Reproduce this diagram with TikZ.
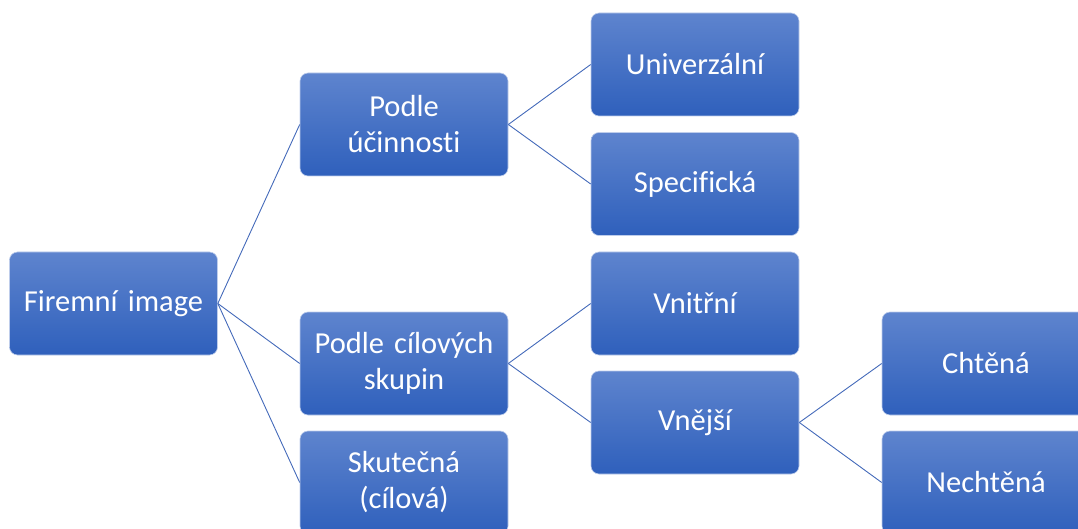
\documentclass[tikz,border=0pt]{standalone}
\usepackage{fontspec}
\setmainfont{Carlito}[Ligatures={NoCommon}]
\definecolor{boxtop}{RGB}{94,132,206}
\definecolor{boxbot}{RGB}{47,96,188}
\definecolor{boxedge}{RGB}{190,205,235}
\definecolor{linkc}{RGB}{68,106,186}
\tikzset{
  box/.style={rectangle, rounded corners=8pt, top color=boxtop, bottom color=boxbot,
    draw=boxedge, line width=0.6pt, minimum width=208pt, minimum height=103pt,
    text width=196pt, align=center, text=white, inner sep=0pt,
    font=\fontsize{30.5}{36}\selectfont},
  link/.style={draw=linkc, line width=0.9pt}
}
\begin{document}
\begin{tikzpicture}[x=1pt,y=-1pt]
\useasboundingbox (0,0) rectangle (1078,529);
\begin{scope}
\clip (0,0) rectangle (1078,529);
\node[box] (fi)  at (113.5,303.5) {Firemní image};
\node[box] (pu)  at (404,124.5) {Podle\\účinnosti};
\node[box] (uni) at (695,64.5) {Univerzální};
\node[box] (spe) at (695,184) {Specifická};
\node[box] (pc)  at (404,363.5) {Podle cílových\\skupin};
\node[box] (vni) at (695,303.5) {Vnitřní};
\node[box] (vne) at (695,422.5) {Vnější};
\node[box] (sku) at (404,482.5) {Skutečná\\(cílová)};
\node[box] (cht) at (986,363.5) {Chtěná};
\node[box] (nec) at (986,482.5) {Nechtěná};
\draw[link] (fi.east) -- (pu.west);
\draw[link] (fi.east) -- (pc.west);
\draw[link] (fi.east) -- (sku.west);
\draw[link] (pu.east) -- (uni.west);
\draw[link] (pu.east) -- (spe.west);
\draw[link] (pc.east) -- (vni.west);
\draw[link] (pc.east) -- (vne.west);
\draw[link] (vne.east) -- (cht.west);
\draw[link] (vne.east) -- (nec.west);
\end{scope}
\end{tikzpicture}
\end{document}
